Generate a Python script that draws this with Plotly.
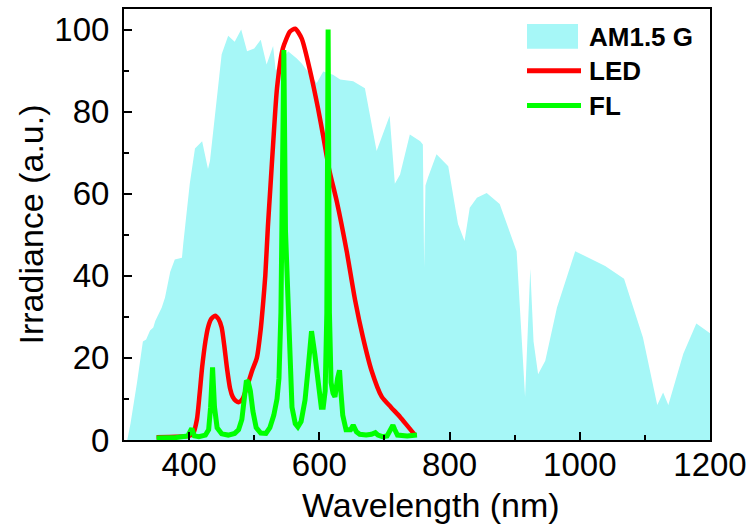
import plotly.graph_objects as go

# AM1.5 G reference solar spectrum (normalised, a.u.)
am_wl = [305, 310, 320, 329, 334, 340, 345, 348, 358, 363, 371, 378, 389, 391, 401, 409,
         420, 429, 432, 450, 460, 470, 480, 489, 500, 510, 519, 529, 533, 545, 552, 565,
         573, 586, 596, 606, 621, 632, 652, 670, 688, 708, 716, 724, 739, 755, 759, 761,
         763, 767, 780, 798, 813, 823, 831, 842, 857, 877, 903, 916, 924, 929, 936, 947,
         965, 993, 1039, 1068, 1097, 1119, 1128, 1136, 1159, 1179, 1200]
am_val = [0, 4, 14, 24, 24.5, 26.7, 27.4, 29, 32.3, 34.7, 41, 44, 44.4, 47.8, 62.4, 71,
          72.8, 66, 68, 94, 98.5, 97, 100, 94.7, 95.4, 97.5, 91.5, 96, 90, 93, 94.7, 93,
          91.7, 89, 87, 89.8, 89, 87.8, 87.4, 85.7, 70.4, 79, 62.4, 64.7, 74.4, 72.8, 72, 42,
          62, 64, 69.6, 66.7, 52.6, 48.5, 56.6, 59, 60.2, 57.5, 46, 10.5, 41.7, 24, 16, 19.3,
          32.3, 46, 42.4, 39.3, 25, 8.5, 11.6, 8.5, 21, 28.4, 26]

# LED emission spectrum
led_wl = [350, 380, 400, 406, 412, 416, 420, 425, 429, 434, 440, 445, 450, 454, 458, 463,
          467, 472, 476, 482, 489, 497, 504, 510, 514, 517, 521, 525, 529, 535, 544, 555,
          563, 573, 586, 598, 606, 615, 627, 642, 655, 667, 680, 696, 710, 724, 735, 747]
led_val = [0.7, 0.8, 1, 1.5, 5, 11, 17.7, 24, 27.4, 29.5, 30.3, 29.5, 27.4, 23, 17.7, 12.5,
           10.5, 9.5, 9.2, 10, 13, 17, 20, 27, 34, 40, 52, 62, 72, 85.7, 95.4, 99.5,
           100.2, 97.8, 89.8, 80.8, 74, 66, 58, 46, 34, 25, 17, 10.5, 8, 5.6, 3.5, 1.2]

# Fluorescent lamp emission spectrum
fl_wl = [350, 380, 398, 404, 408, 415, 425, 430, 433, 436, 439, 443, 450, 460, 470, 476,
         481, 485, 488, 491, 494, 498, 503, 510, 518, 524, 530, 535, 538, 541, 543, 545.5,
         548, 552, 555, 558, 563, 567, 572, 578, 583, 588, 593, 598, 603, 606, 609, 611.5,
         613.5, 615.5, 618, 621, 624, 628, 631, 633, 636, 641, 648, 652, 657, 662, 672, 680,
         686, 690, 697, 704, 710, 713, 716, 720, 735, 750]
fl_val = [0.5, 0.6, 1, 2.8, 1, 0.8, 1.2, 2.5, 8, 17.7, 8, 3, 1.5, 1.2, 1.6, 2.5,
          5, 11, 14.5, 14, 12, 7, 3, 1.7, 1.6, 3, 6, 10, 15, 31, 51, 95,
          51, 31, 16, 8, 4, 3.2, 4.5, 9.7, 17.7, 26.5, 21, 13, 8, 8, 12, 31,
          100, 31, 14, 11.4, 10.5, 15, 17, 12, 6, 2.5, 2.5, 3.6, 2, 1.4, 1.2, 1.4,
          1.8, 1.2, 0.8, 1, 2.5, 3.6, 2.5, 1.2, 1, 1.2]

x_ticks = [400, 600, 800, 1000, 1200]
y_ticks = [0, 20, 40, 60, 80, 100]
legend_names = ["AM1.5 G", "LED", "FL"]
x_title = "Wavelength (nm)"
y_title = "Irradiance (a.u.)"

CYAN = "rgb(166,247,247)"
RED = "rgb(255,0,0)"
GREEN = "rgb(0,255,0)"
FONT = "Liberation Sans, Arial, sans-serif"

fig = go.Figure()
fig.add_trace(go.Scatter(x=am_wl, y=am_val, mode="lines", fill="tozeroy",
                         fillcolor=CYAN, line=dict(width=0, color=CYAN),
                         name=legend_names[0], showlegend=False))
fig.add_trace(go.Scatter(x=led_wl, y=led_val, mode="lines",
                         line=dict(color=RED, width=4.5, shape="spline", smoothing=0.6),
                         name=legend_names[1], showlegend=False))
fig.add_trace(go.Scatter(x=fl_wl, y=fl_val, mode="lines",
                         line=dict(color=GREEN, width=5),
                         name=legend_names[2], showlegend=False))

# manual legend (paper coordinates)
L, R, T, B = 124, 710, 7, 440
W, H = R - L, B - T
def px(x):
    return (x - L) / W
def py(y):
    return (B - y) / H

shapes = [
    dict(type="rect", xref="paper", yref="paper", x0=px(527), x1=px(578), y0=py(47), y1=py(22),
         fillcolor=CYAN, line=dict(width=0), layer="above"),
    dict(type="line", xref="paper", yref="paper", x0=px(527), x1=px(581), y0=py(69), y1=py(69),
         line=dict(color=RED, width=5), layer="above"),
    dict(type="line", xref="paper", yref="paper", x0=px(527), x1=px(581), y0=py(104), y1=py(104),
         line=dict(color=GREEN, width=5), layer="above"),
]
annotations = []
for name, yy in zip(legend_names, [35, 69, 104]):
    annotations.append(dict(xref="paper", yref="paper", x=px(587), y=py(yy), text="<b>%s</b>" % name,
                            showarrow=False, xanchor="left", yanchor="middle",
                            font=dict(family=FONT, size=26, color="black")))
# x-axis title
annotations.append(dict(xref="paper", yref="paper", x=px(431), y=py(505), text=x_title,
                        showarrow=False, xanchor="center", yanchor="middle",
                        font=dict(family=FONT, size=34, color="black")))

axis_common = dict(showline=True, linecolor="black", linewidth=2, mirror=True,
                   ticks="inside", tickwidth=2, ticklen=8, tickcolor="black",
                   showgrid=False, zeroline=False,
                   tickfont=dict(family=FONT, size=33, color="black"))

fig.update_layout(
    width=755, height=532,
    margin=dict(l=L, r=755 - R, t=T, b=532 - B),
    paper_bgcolor="white", plot_bgcolor="white",
    shapes=shapes, annotations=annotations,
    xaxis=dict(range=[300, 1200], tickvals=x_ticks,
               minor=dict(dtick=100, tick0=300, ticks="inside", ticklen=5, tickwidth=2, tickcolor="black"),
               ticklabelstandoff=-6, **axis_common),
    yaxis=dict(range=[0, 105], tickvals=y_ticks,
               minor=dict(dtick=10, tick0=0, ticks="inside", ticklen=5, tickwidth=2, tickcolor="black"),
               title=dict(text=y_title, font=dict(family=FONT, size=34, color="black"), standoff=0),
               ticklabelstandoff=6, **axis_common),
)

fig.write_html("out.html")
